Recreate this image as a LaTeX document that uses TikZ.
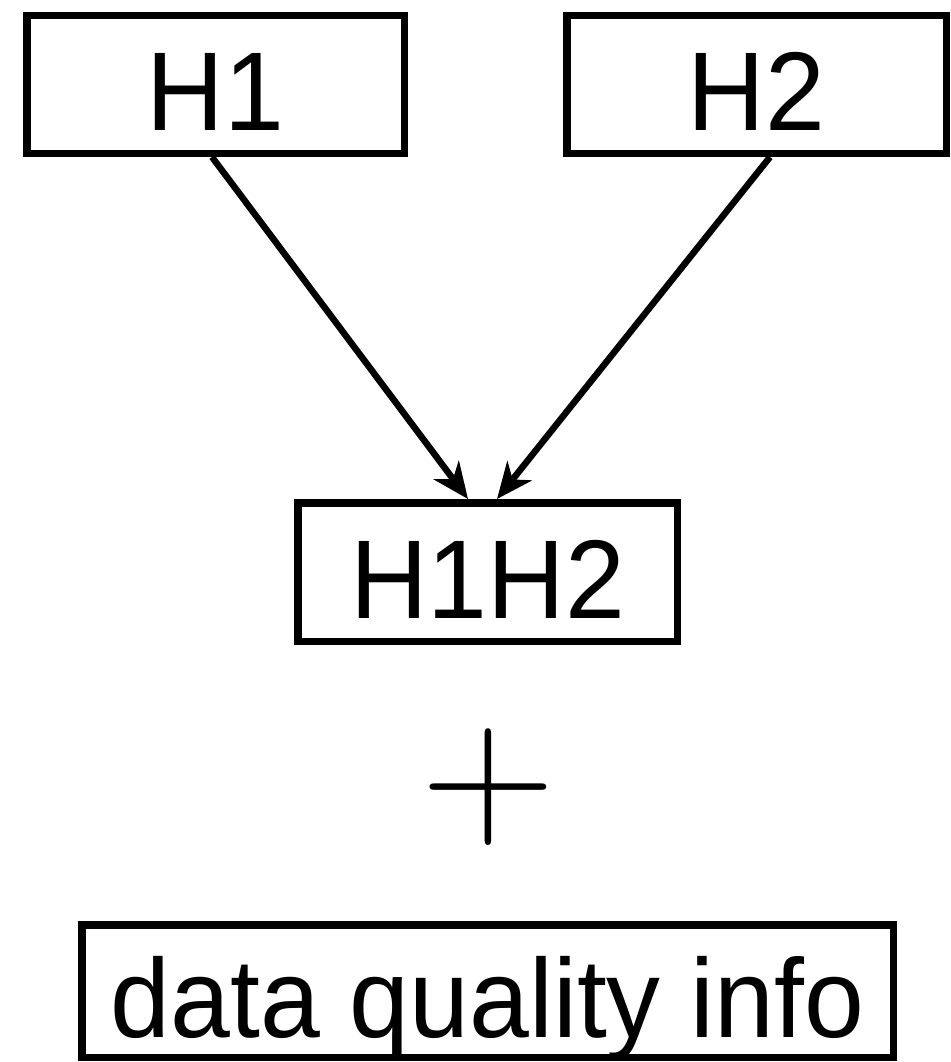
\documentclass[tikz,border=0pt]{standalone}
\usepackage{fontspec}
\newfontfamily\helv[FakeStretch=0.96]{Liberation Sans}
\usetikzlibrary{arrows.meta}
\tikzset{
  box/.style={draw, line width=7.5pt, inner sep=0pt, text height=92pt, text depth=0pt,
    font=\helv\fontsize{112pt}{112pt}\selectfont},
  conn/.style={line width=6.5pt, -{Stealth[length=36pt,width=31pt,inset=11pt]}},
  plusmark/.style={inner sep=0pt, font=\fontsize{186pt}{186pt}\selectfont}
}
\begin{document}
\begin{tikzpicture}[x=1pt,y=-1pt]
\useasboundingbox (0,0) rectangle (950,1062);
\node[box, minimum width=377.5pt, minimum height=137.5pt] (H1) at (215.5,84.5) {H1};
\node[box, minimum width=379.5pt, minimum height=137.5pt] (H2) at (756.5,84.5) {H2};
\node[box, minimum width=379.5pt, minimum height=138.5pt] (H12) at (487.5,572) {H1H2};
\node[plusmark] (plus) at (488,787) {+};
\node[box, minimum width=811.5pt, minimum height=132.5pt] (dq) at (487.5,991) {data quality info};
\draw[conn] ([xshift=-3.5pt]H1.south) -- ([xshift=-19.5pt]H12.north);
\draw[conn] ([xshift=13.5pt]H2.south) -- ([xshift=9.5pt]H12.north);
\end{tikzpicture}
\end{document}
